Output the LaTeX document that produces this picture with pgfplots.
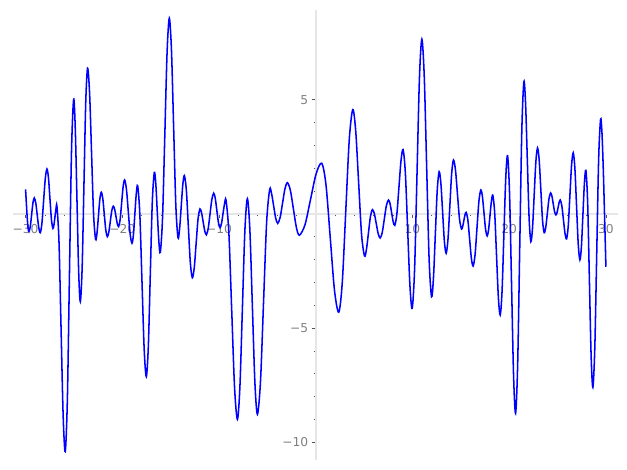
\documentclass[border=0pt]{standalone}
\usepackage{fontspec}
\setmainfont{DejaVu Sans}
\usepackage{pgfplots}
\pgfplotsset{compat=1.18}
\definecolor{axline}{HTML}{E6E6E6}
\definecolor{ticklab}{HTML}{808080}
\definecolor{tickcol}{HTML}{555555}
\begin{document}
\begin{tikzpicture}
\begin{axis}[
  set layers,
  scale only axis,
  width=453.75pt, height=337.5pt,
  xmin=-31.3, xmax=31.25, ymin=-10.77, ymax=8.93,
  axis lines=middle,
  axis line style={-, draw=axline, line width=1.4pt},
  xtick={-30,-20,-10,0,10,20,30},
  xticklabels={−30,−20,−10,,10,20,30},
  ytick={-10,-5,0,5},
  yticklabels={−10,−5,,5},
  minor x tick num=4,
  minor y tick num=4,
  hide obscured x ticks=false,
  hide obscured y ticks=false,
  tick align=outside,
  major tick length=3pt,
  minor tick length=1.5pt,
  tick style={draw=tickcol, line width=0.6pt},
  xticklabel style={font=\fontsize{9.2}{11}\selectfont, text=ticklab, inner sep=0pt, anchor=north, yshift=-4.5pt},
  yticklabel style={font=\fontsize{9.2}{11}\selectfont, text=ticklab, inner sep=0pt, anchor=east, xshift=-2.5pt},
  clip=false,
]
\addplot[blue, line width=1.15pt, smooth] coordinates {
(-30.00,1.08) (-29.91,0.40) (-29.83,-0.16) (-29.74,-0.61) (-29.65,-0.77)
(-29.51,-0.55) (-29.375,-0.035) (-29.24,0.48) (-29.10,0.70)
(-28.945,0.48) (-28.79,-0.06) (-28.635,-0.60) (-28.48,-0.82)
(-28.31,-0.41) (-28.135,0.575) (-27.96,1.56) (-27.79,1.97)
(-27.635,1.59) (-27.48,0.67) (-27.325,-0.25) (-27.17,-0.63)
(-27.07,-0.49) (-26.965,-0.14) (-26.86,0.21) (-26.76,0.35)
(-26.545,-1.22) (-26.33,-5.025) (-26.115,-8.83) (-25.90,-10.40)
(-25.68,-8.14) (-25.465,-2.69) (-25.25,2.76) (-25.03,5.02)
(-24.86,3.72) (-24.685,0.59) (-24.51,-2.54) (-24.34,-3.84)
(-24.15,-2.34) (-23.965,1.27) (-23.78,4.88) (-23.59,6.38)
(-23.38,5.28) (-23.175,2.635) (-22.97,-0.01) (-22.76,-1.11)
(-22.61,-0.81) (-22.465,-0.08) (-22.32,0.65) (-22.17,0.95)
(-22.015,0.67) (-21.86,-0.02) (-21.705,-0.71) (-21.55,-0.99)
(-21.395,-0.80) (-21.24,-0.325) (-21.085,0.15) (-20.93,0.34)
(-20.79,0.21) (-20.655,-0.105) (-20.52,-0.42) (-20.38,-0.55)
(-20.225,-0.25) (-20.07,0.47) (-19.915,1.19) (-19.76,1.49)
(-19.57,1.08) (-19.38,0.105) (-19.19,-0.87) (-19.00,-1.28)
(-18.85,-0.91) (-18.705,-0.025) (-18.56,0.86) (-18.41,1.23)
(-18.19,0.01) (-17.965,-2.945) (-17.74,-5.90) (-17.52,-7.12)
(-17.31,-5.81) (-17.105,-2.65) (-16.90,0.51) (-16.69,1.82)
(-16.535,1.31) (-16.38,0.07) (-16.225,-1.17) (-16.07,-1.68)
(-15.84,-0.18) (-15.605,3.445) (-15.37,7.07) (-15.14,8.57)
(-14.915,7.16) (-14.69,3.765) (-14.465,0.37) (-14.24,-1.04)
(-14.075,-0.64) (-13.91,0.32) (-13.745,1.28) (-13.58,1.68)
(-13.375,1.03) (-13.17,-0.555) (-12.965,-2.14) (-12.76,-2.79)
(-12.56,-2.35) (-12.365,-1.285) (-12.17,-0.22) (-11.97,0.22)
(-11.805,0.05) (-11.64,-0.345) (-11.475,-0.74) (-11.31,-0.91)
(-11.12,-0.64) (-10.93,0.00) (-10.74,0.64) (-10.55,0.91)
(-10.39,0.69) (-10.225,0.155) (-10.06,-0.38) (-9.90,-0.60)
(-9.745,-0.42) (-9.59,0.005) (-9.435,0.43) (-9.28,0.61)
(-8.985,-0.80) (-8.69,-4.19) (-8.395,-7.58) (-8.10,-8.99)
(-7.8425,-7.58) (-7.585,-4.16) (-7.3275,-0.74) (-7.07,0.67)
(-6.81,-0.71) (-6.55,-4.05) (-6.29,-7.39) (-6.03,-8.77)
(-5.7125,-7.33) (-5.395,-3.845) (-5.0775,-0.36) (-4.76,1.08)
(-4.5525,0.86) (-4.345,0.335) (-4.1375,-0.19) (-3.93,-0.41)
(-3.68,-0.15) (-3.43,0.48) (-3.18,1.11) (-2.93,1.37)
(-2.62,1.03) (-2.31,0.22) (-2.00,-0.59) (-1.69,-0.93)
(-1.11,-0.47) (-0.535,0.645) (0.04,1.76) (0.62,2.22)
(1.06,1.27) (1.50,-1.04) (1.94,-3.35) (2.38,-4.30)
(2.7425,-3.00) (3.105,0.135) (3.4675,3.27) (3.83,4.57)
(4.1325,3.63) (4.435,1.365) (4.7375,-0.90) (5.04,-1.84)
(5.245,-1.54) (5.45,-0.825) (5.655,-0.11) (5.86,0.19)
(6.06,0.01) (6.26,-0.43) (6.46,-0.87) (6.66,-1.05)
(6.875,-0.81) (7.09,-0.22) (7.305,0.37) (7.52,0.61)
(7.6825,0.45) (7.845,0.055) (8.0075,-0.34) (8.17,-0.50)
(8.385,-0.01) (8.60,1.16) (8.815,2.33) (9.03,2.82)
(9.265,1.80) (9.50,-0.655) (9.735,-3.11) (9.97,-4.13)
(10.22,-2.41) (10.47,1.76) (10.72,5.93) (10.97,7.65)
(11.22,6.00) (11.47,2.015) (11.72,-1.97) (11.97,-3.62)
(12.1675,-2.82) (12.365,-0.885) (12.5625,1.05) (12.76,1.85)
(12.94,1.33) (13.12,0.065) (13.30,-1.20) (13.48,-1.72)
(13.67,-1.12) (13.86,0.32) (14.05,1.76) (14.24,2.36)
(14.4475,1.92) (14.655,0.85) (14.8625,-0.22) (15.07,-0.66)
(15.19,-0.55) (15.31,-0.295) (15.43,-0.04) (15.55,0.07)
(15.73,-0.27) (15.91,-1.105) (16.09,-1.94) (16.27,-2.28)
(16.47,-1.79) (16.67,-0.615) (16.87,0.56) (17.07,1.05)
(17.2325,0.76) (17.395,0.045) (17.5575,-0.67) (17.72,-0.96)
(17.8675,-0.70) (18.015,-0.07) (18.1625,0.56) (18.31,0.82)
(18.50,0.05) (18.69,-1.80) (18.88,-3.65) (19.07,-4.42)
(19.26,-3.40) (19.45,-0.935) (19.64,1.53) (19.83,2.55)
(20.0375,0.90) (20.245,-3.09) (20.4525,-7.08) (20.66,-8.73)
(20.875,-6.60) (21.09,-1.47) (21.305,3.66) (21.52,5.79)
(21.70,4.77) (21.88,2.29) (22.06,-0.19) (22.24,-1.21)
(22.4125,-0.61) (22.585,0.84) (22.7575,2.29) (22.93,2.89)
(23.1025,2.35) (23.275,1.035) (23.4475,-0.28) (23.62,-0.82)
(23.785,-0.57) (23.95,0.05) (24.115,0.67) (24.28,0.92)
(24.4175,0.78) (24.555,0.44) (24.6925,0.10) (24.83,-0.04)
(24.9425,0.06) (25.055,0.285) (25.1675,0.51) (25.28,0.61)
(25.4425,0.36) (25.605,-0.24) (25.7675,-0.84) (25.93,-1.09)
(26.1025,-0.54) (26.275,0.795) (26.4475,2.13) (26.62,2.68)
(26.7925,1.99) (26.965,0.335) (27.1375,-1.32) (27.31,-2.01)
(27.465,-1.44) (27.62,-0.05) (27.775,1.34) (27.93,1.91)
(28.11,0.52) (28.29,-2.84) (28.47,-6.20) (28.65,-7.59)
(28.85,-5.87) (29.05,-1.72) (29.25,2.43) (29.45,4.15)
(29.59,3.56) (29.73,1.93) (29.87,-0.24) (30.00,-2.31)
};
\end{axis}
\path ([xshift=-9.75pt,yshift=-7.5pt]current axis.south west) rectangle ([xshift=6.75pt,yshift=7.5pt]current axis.north east);
\end{tikzpicture}
\end{document}
